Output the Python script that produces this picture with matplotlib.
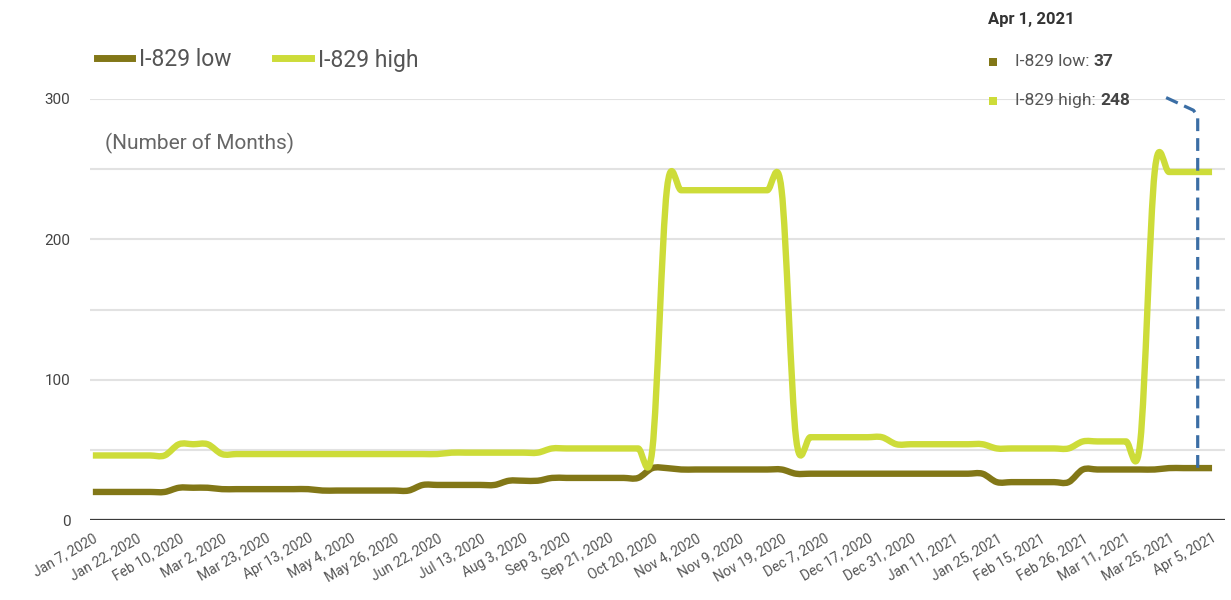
import matplotlib.pyplot as plt
from matplotlib.path import Path
from matplotlib.patches import PathPatch, Rectangle
from matplotlib.lines import Line2D
import numpy as np

plt.rcParams['font.family'] = ['Roboto', 'DejaVu Sans']

# x axis: 79 weekly-ish points, a label on every third one
tick_labels = ["Jan 7, 2020", "Jan 22, 2020", "Feb 10, 2020", "Mar 2, 2020", "Mar 23, 2020",
               "Apr 13, 2020", "May 4, 2020", "May 26, 2020", "Jun 22, 2020", "Jul 13, 2020",
               "Aug 3, 2020", "Sep 3, 2020", "Sep 21, 2020", "Oct 20, 2020", "Nov 4, 2020",
               "Nov 9, 2020", "Nov 19, 2020", "Dec 7, 2020", "Dec 17, 2020", "Dec 31, 2020",
               "Jan 11, 2021", "Jan 25, 2021", "Feb 15, 2021", "Feb 26, 2021", "Mar 11, 2021",
               "Mar 25, 2021", "Apr 5, 2021"]
label_step = 3

low = [20, 20, 20, 20, 20, 20, 23, 23, 23, 22,
       22, 22, 22, 22, 22, 22, 21, 21, 21, 21,
       21, 21, 21, 25, 25, 25, 25, 25, 25, 28,
       28, 28, 30, 30, 30, 30, 30, 30, 30, 37,
       37, 36, 36, 36, 36, 36, 36, 36, 36, 33,
       33, 33, 33, 33, 33, 33, 33, 33, 33, 33,
       33, 33, 33, 27, 27, 27, 27, 27, 27, 36,
       36, 36, 36, 36, 36, 37, 37, 37, 37]
high = [46, 46, 46, 46, 46, 46, 54, 54, 54, 47,
        47, 47, 47, 47, 47, 47, 47, 47, 47, 47,
        47, 47, 47, 47, 47, 48, 48, 48, 48, 48,
        48, 48, 51, 51, 51, 51, 51, 51, 51, 51,
        235, 235, 235, 235, 235, 235, 235, 235, 235, 59,
        59, 59, 59, 59, 59, 59, 54, 54, 54, 54,
        54, 54, 54, 51, 51, 51, 51, 51, 51, 56,
        56, 56, 56, 56, 248, 248, 248, 248, 248]

tip_date = "Apr 1, 2021"
tip_index = 77

low_color = '#827717'
high_color = '#cddc39'


def smooth_path(values):
    # catmull-rom style curve through the points (like the original's smoothed lines)
    y = np.asarray(values, dtype=float)
    n = len(y)
    m = np.zeros(n)
    m[1:-1] = (y[2:] - y[:-2]) / 2
    m[0] = y[1] - y[0]
    m[-1] = y[-1] - y[-2]
    verts = [(0, y[0])]
    codes = [Path.MOVETO]
    for i in range(n - 1):
        verts += [(i + 1 / 3, y[i] + m[i] / 3), (i + 2 / 3, y[i + 1] - m[i + 1] / 3), (i + 1, y[i + 1])]
        codes += [Path.CURVE4] * 3
    return Path(verts, codes)


fig = plt.figure(figsize=(12.31, 6.0), dpi=100)
ax = fig.add_axes([0.0731, 0.1333, 0.922, 0.7017])

for vals, col in [(low, low_color), (high, high_color)]:
    ax.add_patch(PathPatch(smooth_path(vals), facecolor='none', edgecolor=col,
                           lw=4.6, capstyle='butt', joinstyle='round', zorder=3))

ax.set_xlim(-0.2, 78.9)
ax.set_ylim(0, 300)
ax.set_yticks([0, 100, 200, 300])
ax.set_yticks([50, 150, 250], minor=True)
ax.grid(True, which='both', axis='y', color='#e2e2e2', lw=1.5)
ax.set_axisbelow(True)
ax.axhline(0, color='#3a3a3a', lw=1.6, zorder=2)
for s in ax.spines.values():
    s.set_visible(False)

ax.set_xticks(range(0, len(low), label_step))
ax.set_xticklabels(tick_labels, rotation=30, ha='right', va='top', rotation_mode='anchor',
                   fontsize=10, color='#555555')
ax.tick_params(axis='x', length=0, pad=8)
ax.tick_params(axis='y', which='both', length=0, pad=14, labelsize=11, labelcolor='#444444')

ax.text(0.013, 0.895, "(Number of Months)", transform=ax.transAxes, fontsize=15,
        color='#666666', va='center', ha='left')

handles = [Line2D([], [], color=low_color, lw=5), Line2D([], [], color=high_color, lw=5)]
fig.legend(handles, ["I-829 low", "I-829 high"], loc='center left', bbox_to_anchor=(0.062, 0.9),
           ncol=2, frameon=False, fontsize=16.5, handlelength=1.55, handletextpad=0.3,
           columnspacing=1.9, labelcolor='#555555')

# tooltip
fig.text(0.8026, 0.967, tip_date, fontsize=12, fontweight='bold', color='#333333', va='center')
renderer = fig.canvas.get_renderer()
for row, (name, vals, col) in enumerate([("I-829 low", low, low_color), ("I-829 high", high, high_color)]):
    yy = 0.897 - row * 0.064
    fig.add_artist(Rectangle((0.8035, yy - 0.0075), 0.0065, 0.0135, transform=fig.transFigure,
                             facecolor=col, edgecolor='none'))
    t = fig.text(0.8245, yy, name + ": ", fontsize=12.5, color='#555555', va='center')
    bb = t.get_window_extent(renderer)
    fig.text(bb.x1 / fig.bbox.width, yy, str(vals[tip_index]), fontsize=12.5, fontweight='bold',
             color='#444444', va='center')

# dashed pointer from the tooltip to the hovered point
ax.plot([74.8, 76.7, tip_index, tip_index], [301, 292, 288, low[tip_index]], color='#3b6ea5',
        lw=2.3, ls=(0, (4, 2.2)), clip_on=False, zorder=5)

fig.savefig('out.png', dpi=100)
